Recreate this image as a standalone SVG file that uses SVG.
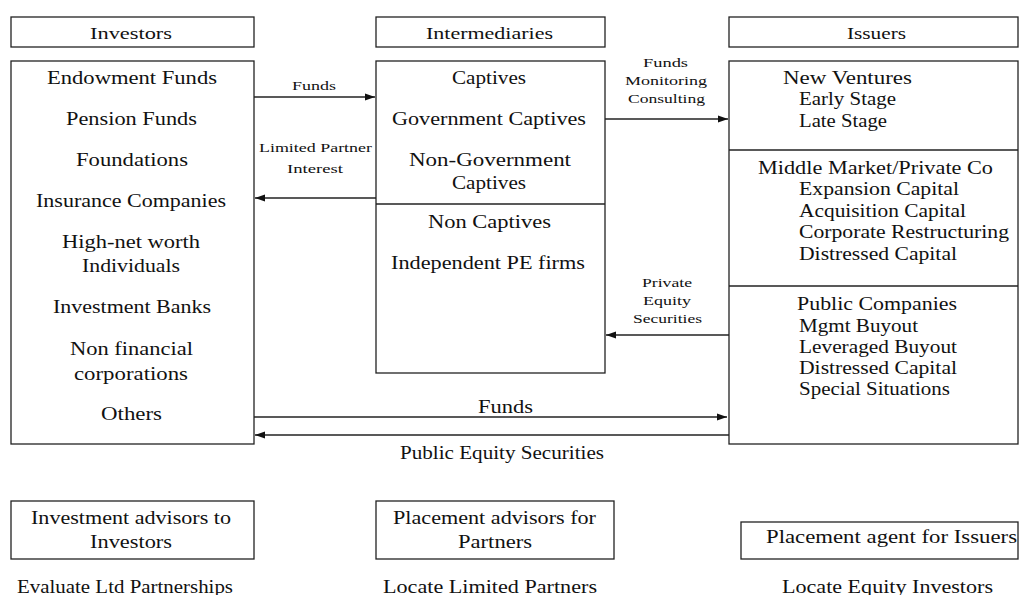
<svg xmlns="http://www.w3.org/2000/svg" width="1019" height="595" viewBox="0 0 1019 595">
<style>
.box{fill:#fff;stroke:#222;stroke-width:1.3}
.ln{stroke:#222;stroke-width:1.3;fill:none}
text{font-family:"Liberation Serif","Times New Roman",serif;fill:#111}
.t{font-size:18px}
.h{font-size:16px}
.s{font-size:13.5px}
</style>
<defs>
<marker id="ah" viewBox="0 0 10 10" refX="10" refY="5" markerWidth="10" markerHeight="10" markerUnits="userSpaceOnUse" orient="auto">
<path d="M0,1.5 L10,5 L0,8.5 Z" fill="#111"/>
</marker>
</defs>
<rect width="1019" height="595" fill="#fff"/>

<g id="investors-header">
<rect class="box" x="11" y="17" width="243" height="30"/>
<text class="h" x="90" y="39" textLength="82" lengthAdjust="spacingAndGlyphs">Investors</text>
</g>
<g id="intermediaries-header">
<rect class="box" x="376" y="17" width="229" height="30"/>
<text class="h" x="426" y="39" textLength="127" lengthAdjust="spacingAndGlyphs">Intermediaries</text>
</g>
<g id="issuers-header">
<rect class="box" x="729" y="17" width="289" height="30"/>
<text class="h" x="847" y="39" textLength="59" lengthAdjust="spacingAndGlyphs">Issuers</text>
</g>

<g id="investors">
<rect class="box" x="11" y="61" width="243" height="383"/>
<text class="t" x="47" y="84" textLength="170" lengthAdjust="spacingAndGlyphs">Endowment Funds</text>
<text class="t" x="66" y="125" textLength="131" lengthAdjust="spacingAndGlyphs">Pension Funds</text>
<text class="t" x="76" y="166" textLength="112" lengthAdjust="spacingAndGlyphs">Foundations</text>
<text class="t" x="36" y="207" textLength="190" lengthAdjust="spacingAndGlyphs">Insurance Companies</text>
<text class="t" x="62" y="248" textLength="138" lengthAdjust="spacingAndGlyphs">High-net worth</text>
<text class="t" x="82" y="272" textLength="98" lengthAdjust="spacingAndGlyphs">Individuals</text>
<text class="t" x="53" y="313" textLength="158" lengthAdjust="spacingAndGlyphs">Investment Banks</text>
<text class="t" x="70" y="355" textLength="123" lengthAdjust="spacingAndGlyphs">Non financial</text>
<text class="t" x="74" y="380" textLength="114" lengthAdjust="spacingAndGlyphs">corporations</text>
<text class="t" x="101" y="420" textLength="61" lengthAdjust="spacingAndGlyphs">Others</text>
</g>

<g id="intermediaries">
<rect class="box" x="376" y="61" width="229" height="312"/>
<line class="ln" x1="376" y1="204" x2="605" y2="204"/>
<text class="t" x="452" y="84" textLength="74" lengthAdjust="spacingAndGlyphs">Captives</text>
<text class="t" x="392" y="125" textLength="194" lengthAdjust="spacingAndGlyphs">Government Captives</text>
<text class="t" x="409" y="166" textLength="162" lengthAdjust="spacingAndGlyphs">Non-Government</text>
<text class="t" x="452" y="189" textLength="74" lengthAdjust="spacingAndGlyphs">Captives</text>
<text class="t" x="428" y="228" textLength="123" lengthAdjust="spacingAndGlyphs">Non Captives</text>
<text class="t" x="391" y="269" textLength="194" lengthAdjust="spacingAndGlyphs">Independent PE firms</text>
</g>

<g id="issuers">
<rect class="box" x="729" y="61" width="289" height="383"/>
<line class="ln" x1="729" y1="150" x2="1018" y2="150"/>
<line class="ln" x1="729" y1="286" x2="1018" y2="286"/>
<text class="t" x="783" y="84" textLength="129" lengthAdjust="spacingAndGlyphs">New Ventures</text>
<text class="t" x="799" y="105" textLength="97" lengthAdjust="spacingAndGlyphs">Early Stage</text>
<text class="t" x="799" y="127" textLength="88" lengthAdjust="spacingAndGlyphs">Late Stage</text>
<text class="t" x="758" y="174" textLength="235" lengthAdjust="spacingAndGlyphs">Middle Market/Private Co</text>
<text class="t" x="799" y="195" textLength="160" lengthAdjust="spacingAndGlyphs">Expansion Capital</text>
<text class="t" x="799" y="217" textLength="167" lengthAdjust="spacingAndGlyphs">Acquisition Capital</text>
<text class="t" x="799" y="238" textLength="210" lengthAdjust="spacingAndGlyphs">Corporate Restructuring</text>
<text class="t" x="799" y="260" textLength="158" lengthAdjust="spacingAndGlyphs">Distressed Capital</text>
<text class="t" x="797" y="310" textLength="160" lengthAdjust="spacingAndGlyphs">Public Companies</text>
<text class="t" x="799" y="332" textLength="119" lengthAdjust="spacingAndGlyphs">Mgmt Buyout</text>
<text class="t" x="799" y="353" textLength="158" lengthAdjust="spacingAndGlyphs">Leveraged Buyout</text>
<text class="t" x="799" y="374" textLength="158" lengthAdjust="spacingAndGlyphs">Distressed Capital</text>
<text class="t" x="799" y="395" textLength="151" lengthAdjust="spacingAndGlyphs">Special Situations</text>
</g>

<g id="connectors">
<line class="ln" x1="254" y1="97" x2="375" y2="97" marker-end="url(#ah)"/>
<line class="ln" x1="376" y1="198" x2="255" y2="198" marker-end="url(#ah)"/>
<line class="ln" x1="605" y1="119" x2="728" y2="119" marker-end="url(#ah)"/>
<line class="ln" x1="729" y1="335" x2="606" y2="335" marker-end="url(#ah)"/>
<line class="ln" x1="254" y1="417" x2="727" y2="417" marker-end="url(#ah)"/>
<line class="ln" x1="729" y1="435" x2="255" y2="435" marker-end="url(#ah)"/>
<text class="s" x="292" y="90" textLength="44" lengthAdjust="spacingAndGlyphs">Funds</text>
<text class="s" x="259" y="152" textLength="113" lengthAdjust="spacingAndGlyphs">Limited Partner</text>
<text class="s" x="287" y="173" textLength="56" lengthAdjust="spacingAndGlyphs">Interest</text>
<text class="s" x="643" y="67" textLength="45" lengthAdjust="spacingAndGlyphs">Funds</text>
<text class="s" x="625" y="85" textLength="82" lengthAdjust="spacingAndGlyphs">Monitoring</text>
<text class="s" x="628" y="103" textLength="77" lengthAdjust="spacingAndGlyphs">Consulting</text>
<text class="s" x="642" y="287" textLength="50" lengthAdjust="spacingAndGlyphs">Private</text>
<text class="s" x="643" y="305" textLength="48" lengthAdjust="spacingAndGlyphs">Equity</text>
<text class="s" x="633" y="323" textLength="69" lengthAdjust="spacingAndGlyphs">Securities</text>
<text class="t" x="478" y="413" textLength="55" lengthAdjust="spacingAndGlyphs">Funds</text>
<text class="t" x="400" y="459" textLength="204" lengthAdjust="spacingAndGlyphs">Public Equity Securities</text>
</g>

<g id="investment-advisors">
<rect class="box" x="11" y="501" width="243" height="58"/>
<text class="t" x="31" y="524" textLength="200" lengthAdjust="spacingAndGlyphs">Investment advisors to</text>
<text class="t" x="90" y="548" textLength="82" lengthAdjust="spacingAndGlyphs">Investors</text>
</g>
<g id="placement-advisors">
<rect class="box" x="376" y="501" width="238" height="58"/>
<text class="t" x="393" y="524" textLength="203" lengthAdjust="spacingAndGlyphs">Placement advisors for</text>
<text class="t" x="458" y="548" textLength="74" lengthAdjust="spacingAndGlyphs">Partners</text>
</g>
<g id="placement-agent">
<rect class="box" x="741" y="522" width="277" height="37"/>
<text class="t" x="766" y="543" textLength="251" lengthAdjust="spacingAndGlyphs">Placement agent for Issuers</text>
</g>
<g id="roles">
<text class="t" x="17" y="593" textLength="216" lengthAdjust="spacingAndGlyphs">Evaluate Ltd Partnerships</text>
<text class="t" x="383" y="593" textLength="214" lengthAdjust="spacingAndGlyphs">Locate Limited Partners</text>
<text class="t" x="782" y="593" textLength="211" lengthAdjust="spacingAndGlyphs">Locate Equity Investors</text>
</g>
</svg>
